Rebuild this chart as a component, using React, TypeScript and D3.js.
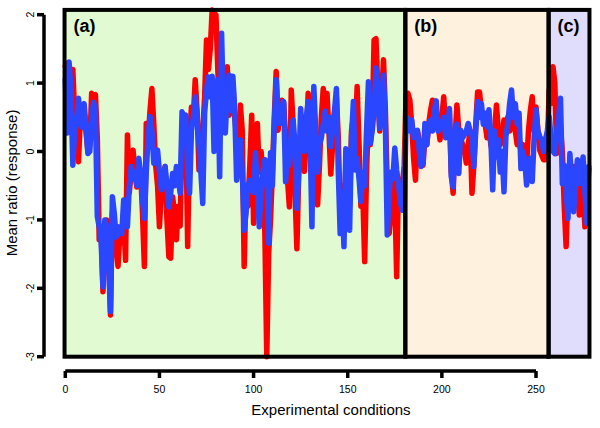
import React from "react";
import * as d3 from "d3";

const redSeries: number[] = [
  1.25, 1.29, 0.6, 1.0, 1.2, 0.5, 0.2, -0.15, 0.5, 0.35,
  0.6, 0.3, 0.0, 0.1, 0.85, 0.8, 0.83, 0.2, -1.29, -1.1,
  -2.05, -1.2, -1.0, -1.5, -2.39, -0.9, -1.2, -1.4, -1.68, -1.2,
  -1.3, -1.0, -1.59, 0.24, -0.6, -0.3, 0.02, -0.3, -0.52, -0.2,
  -0.3, -0.9, -1.68, 0.41, 0.2, 0.6, 0.92, 0.4, -0.2, -0.5,
  -1.1, -0.6, -0.4, -0.22, -1.0, -1.54, -1.56, -0.66, -0.9, -1.29,
  -0.8, -1.09, 0.3, 0.5, 0.4, -1.39, 0.2, 0.65, 0.5, 1.05,
  0.6, -0.27, 0.0, 0.3, 0.8, 1.63, 1.2, 1.5, 2.07, 1.9,
  2.0, 1.2, 0.5, 1.1, 1.0, 0.6, 1.24, 0.53, 0.9, 1.0,
  0.5, 0.2, -0.3, 0.68, 0.3, -1.68, -0.5, -0.8, -0.2, 0.53,
  -1.05, 0.2, 0.41, -0.3, 0.0, -0.4, -1.2, -3.0, -1.5, -1.0,
  -0.3, 0.5, 1.17, 0.31, 0.6, 0.75, 0.7, 0.2, -0.4, -0.81,
  0.9, 0.4, -0.6, -1.42, -0.3, 0.1, 0.3, -0.29, 0.2, 0.85,
  0.5, -0.3, 0.6, 0.2, -0.78, -0.2, 0.5, 0.92, 0.6, 0.85,
  0.3, -0.33, 0.1, 0.4, 0.8, 0.2, -0.9, -0.5, -1.1, -0.2,
  -0.4, -0.8, 0.3, 0.5, 0.2, 0.95, 0.1, -0.8, -0.6, -1.61,
  -0.3, 0.5, 0.1, 0.4, 1.63, 1.65, 0.9, 0.3, 0.8, 1.34,
  0.6, -0.5, -1.2, -0.9, -0.37, -0.6, -1.83, -0.4, -0.71, -0.5,
  -0.2, 0.83, 0.85, 0.75, 0.4, -0.1, -0.42, 0.3, 0.17, -0.2,
  -0.2, 0.2, 0.1, 0.4, 0.6, 0.75, 0.5, 0.6, 0.4, 0.17,
  0.5, 0.8, 0.3, 0.4, 0.6, -0.3, -0.61, 0.2, 0.68, 0.3,
  0.2, 0.1, 0.0, -0.17, 0.1, 0.3, -0.61, -0.2, 0.4, 0.87,
  0.87, 0.6, 0.5, 0.4, 0.2, 0.41, 0.1, 0.0, 0.3, 0.68,
  0.3, 0.1, 0.2, 0.46, 0.36, 0.5, 0.3, 0.6, 0.4, 0.3,
  0.1, 0.2, 0.0, 0.1, -0.1, -0.2, 0.3, 0.6, 0.8, 0.3,
  0.65, 0.3, 0.02, -0.05, -0.12, -0.12, 0.0, 0.9, 0.7, 1.24,
  1.0, -0.03, 0.3, 0.36, 0.0, -0.8, -1.39, -0.5, -0.2, -0.4,
  -0.22, -0.42, -0.5, -0.93, -0.3, -0.6, -1.1, -0.7, -0.25,
];

const blueSeries: number[] = [
  1.05, 0.27, 1.31, 0.9, -0.2, 0.3, 0.4, 0.78, 0.5, 0.35,
  0.7, 0.34, -0.03, 0.0, 0.5, 0.72, 0.6, -0.95, -1.1, -1.3,
  -1.98, -1.0, -1.1, -1.6, -2.34, -0.66, -0.9, -1.25, -1.1, -1.2,
  -1.2, -0.71, -1.0, -1.1, -0.5, -0.22, -0.4, -0.3, -0.5, -0.1,
  -0.3, -0.7, -0.98, -0.3, 0.23, 0.51, 0.3, -0.17, -0.1, 0.02,
  -0.3, -0.56, -0.4, -0.22, -0.5, -0.81, -0.6, -0.32, -0.5, -0.22,
  -0.4, -0.61, 0.58, 0.5, 0.53, -0.3, -0.61, 0.3, 0.5, 0.8,
  0.5, 0.1, -0.3, -0.76, 0.56, 0.9, 1.09, 0.8, 1.1, 0.0,
  0.3, 1.05, -0.37, 1.73, 0.6, 0.27, 0.9, 1.12, 0.6, 1.1,
  0.6, -0.42, -0.2, 0.17, -0.3, -1.15, -0.9, -0.5, -0.42, -0.56,
  -0.6, -0.02, -0.5, -1.1, -0.6, -0.3, -0.12, -0.15, -1.34, -0.02,
  -0.5, 0.4, 1.05, 0.6, 0.41, 0.6, 0.73, -0.44, -0.1, -0.2,
  0.3, 0.46, 0.1, -0.83, -0.3, 0.63, 0.2, 0.0, 0.5, 0.73,
  0.2, -1.1, 0.95, 0.3, -0.3, 0.1, 0.2, 0.4, 0.59, 0.3,
  0.5, 0.07, 0.4, 0.6, 0.92, -0.3, -1.2, -0.6, -1.39, 0.04,
  -0.3, -1.15, 0.2, 0.73, -0.27, -0.1, -0.4, -0.73, -0.3, -0.5,
  0.3, 1.02, 0.12, 0.3, 0.6, 1.22, 0.9, 0.34, 0.8, 1.12,
  0.4, -1.22, -0.6, -0.3, -0.4, 0.05, -0.27, -0.5, -0.75, -0.86,
  -0.86, 0.51, 0.4, 0.3, 0.46, 0.2, 0.3, 0.31, 0.0, -0.22,
  -0.17, 0.41, 0.1, 0.41, 0.46, 0.3, 0.6, 0.74, 0.3, 0.4,
  0.4, 0.5, 0.2, 0.3, 0.63, -0.37, -0.52, 0.29, 0.4, -0.32,
  0.31, 0.2, 0.25, 0.3, 0.41, 0.3, 0.2, -0.22, 0.3, 0.73,
  0.5, 0.7, 0.4, 0.56, 0.36, 0.61, 0.2, -0.56, 0.3, -0.08,
  0.17, -0.3, 0.0, -0.59, 0.22, 0.4, 0.7, 0.9, 0.5, 0.7,
  0.4, 0.56, -0.25, 0.0, -0.12, -0.49, -0.3, -0.1, -0.44, 0.2,
  0.61, 0.3, 0.22, 0.17, 0.0, 0.17, 0.3, 0.51, 0.2, 0.0,
  -0.03, 0.3, 0.5, 0.78, -0.47, -0.2, -0.6, -0.98, -0.03, -0.5,
  -0.88, -0.5, -0.12, -0.47, -0.3, -0.08, -0.6, -1.05, -0.22,
];

const regionLabels = ["(a)", "(b)", "(c)"];
const regionStarts = [-0.4, 180.6, 256.7];
const regionEnds = [180.6, 256.7, 278.4];
const regionFills = ["#e1fad2", "#fef1de", "#e0dcfc"];
const xTicks = [0, 50, 100, 150, 200, 250];
const yTicks = [-3, -2, -1, 0, 1, 2];

const FONT = "'Liberation Sans', Arial, Helvetica, sans-serif";

export default function App() {
  const x = d3.scaleLinear().domain([0, 250]).range([65.3, 536]);
  const y = d3.scaleLinear().domain([-3, 2]).range([356.7, 14.7]);
  const yTop = d3.max([...redSeries, ...blueSeries]) as number;
  const yBot = d3.min([...redSeries, ...blueSeries]) as number;

  const line = d3
    .line<number>()
    .x((_, i) => x(i))
    .y((d) => y(d));

  const axisY = 371;
  const axisX = 44;

  return (
    <svg
      width={600}
      height={428}
      style={{ position: "absolute", left: 0, top: 0, background: "#fff" }}
    >
      {regionStarts.map((s, k) => (
        <rect
          key={"bg" + k}
          x={x(s)}
          y={y(yTop)}
          width={x(regionEnds[k]) - x(s)}
          height={y(yBot) - y(yTop)}
          fill={regionFills[k]}
        />
      ))}
      <path
        d={line(redSeries) || ""}
        fill="none"
        stroke="#ff0000"
        strokeWidth={5.5}
        strokeLinejoin="round"
        strokeLinecap="round"
      />
      <path
        d={line(blueSeries) || ""}
        fill="none"
        stroke="#2a46ff"
        strokeWidth={5.5}
        strokeLinejoin="round"
        strokeLinecap="round"
      />
      {regionStarts.map((s, k) => (
        <rect
          key={"bd" + k}
          x={x(s)}
          y={y(yTop)}
          width={x(regionEnds[k]) - x(s)}
          height={y(yBot) - y(yTop)}
          fill="none"
          stroke="#000"
          strokeWidth={4}
        />
      ))}
      {regionLabels.map((t, k) => (
        <text
          key={"lab" + k}
          x={x(regionStarts[k]) + 9}
          y={32}
          fontFamily={FONT}
          fontWeight="bold"
          fontSize={18}
          fill="#000"
        >
          {t}
        </text>
      ))}
      {/* Y axis */}
      <line
        x1={axisX}
        x2={axisX}
        y1={y(-3)}
        y2={y(2)}
        stroke="#000"
        strokeWidth={3.5}
      />
      {yTicks.map((t) => (
        <g key={"yt" + t}>
          <line
            x1={axisX - 7}
            x2={axisX}
            y1={y(t)}
            y2={y(t)}
            stroke="#000"
            strokeWidth={3.5}
          />
          <text
            transform={`translate(${33.5},${y(t)}) rotate(-90)`}
            textAnchor="middle"
            fontFamily={FONT}
            fontSize={10.5}
            fill="#000"
          >
            {t}
          </text>
        </g>
      ))}
      {/* X axis */}
      <line
        x1={x(0)}
        x2={x(250)}
        y1={axisY}
        y2={axisY}
        stroke="#000"
        strokeWidth={3.5}
      />
      {xTicks.map((t) => (
        <g key={"xt" + t}>
          <line
            x1={x(t)}
            x2={x(t)}
            y1={axisY}
            y2={axisY + 7}
            stroke="#000"
            strokeWidth={3.5}
          />
          <text
            x={x(t)}
            y={392.5}
            textAnchor="middle"
            fontFamily={FONT}
            fontSize={10.5}
            fill="#000"
          >
            {t}
          </text>
        </g>
      ))}
      <text
        x={331}
        y={415}
        textAnchor="middle"
        fontFamily={FONT}
        fontSize={15}
        fill="#000"
      >
        Experimental conditions
      </text>
      <text
        transform={`translate(17,${183}) rotate(-90)`}
        textAnchor="middle"
        fontFamily={FONT}
        fontSize={15}
        fill="#000"
      >
        Mean ratio (response)
      </text>
    </svg>
  );
}
